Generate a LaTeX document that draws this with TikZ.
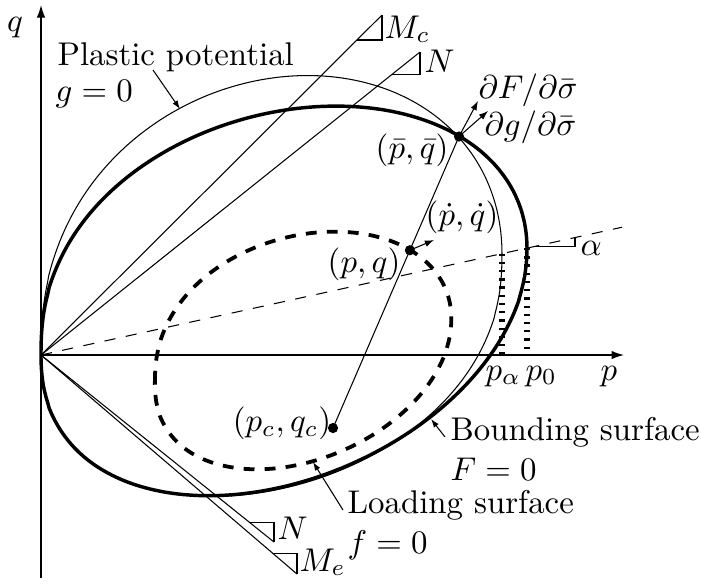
\documentclass[tikz,border=0pt]{standalone}
\usetikzlibrary{arrows.meta}
\begin{document}
\begin{tikzpicture}[x=0.0107cm,y=-0.0107cm,
  thinl/.style={line width=0.32pt},
  thickl/.style={line width=1.05pt},
  axisl/.style={line width=0.42pt,-{Latex[length=3.8pt,width=2.6pt]}},
  normarrow/.style={line width=0.32pt,-{Latex[length=2.8pt,width=2pt]}},
  lblarrow/.style={line width=0.32pt,-{Latex[length=2.6pt,width=1.8pt]}},
  dotn/.style={circle,fill,inner sep=0pt,minimum size=3.1pt},
  lbl/.style={inner sep=0pt},
  loaddash/.style={line width=1.15pt,dash pattern=on 3.3pt off 3.1pt},
  alphadash/.style={line width=0.32pt,dash pattern=on 3.4pt off 3.2pt},
  dotline/.style={line width=1.6pt,dash pattern=on 0.7pt off 1.8pt},
]
\useasboundingbox (0,0) rectangle (701,583);

% bounding surface formula (pixel coordinates)
\def\BX{(41+486*pow(sin(\t),2))}
\def\BYU{(355-(106.9*pow(sin(\t),2)+362*pow(sin(\t),0.84)*cos(\t)))}
\def\BYL{(355-(106.9*pow(sin(\t),2)-354.8*pow(sin(\t),0.92)*pow(-cos(\t),0.96)))}

% coordinates
\coordinate (O) at (41,355);
\coordinate (qtop) at (41,5);
\coordinate (qbot) at (41,578);
\coordinate (pend) at (624,355);
\coordinate (C) at (333,428);
\coordinate (bar) at (459,136.5);
\coordinate (PQ) at (409.9,250.2);

% axes
\draw[axisl] (qbot) -- (qtop);
\draw[axisl] (O) -- (pend);

% lines from origin
\coordinate (Mc) at (382,15);
\coordinate (Mca) at (357,40);
\coordinate (Mcb) at (382,40);
\draw[thinl] (O) -- (Mc);
\draw[thinl] (Mca) -- (Mcb) -- (Mc);
\coordinate (Nu) at (420,52);
\coordinate (Nua) at (392,74.4);
\coordinate (Nub) at (420,74.4);
\draw[thinl] (O) -- (Nu);
\draw[thinl] (Nua) -- (Nub) -- (Nu);
\coordinate (Nl) at (274,542);
\coordinate (Nla) at (249,522);
\coordinate (Nlb) at (274,522);
\draw[thinl] (O) -- (Nl);
\draw[thinl] (Nla) -- (Nlb) -- (Nl);
\coordinate (Me) at (297,574);
\coordinate (Mea) at (273,553.5);
\coordinate (Meb) at (297,553.5);
\draw[thinl] (O) -- (Me);
\draw[thinl] (Mea) -- (Meb) -- (Me);

% alpha line
\coordinate (aend) at (622,227.2);
\draw[alphadash] (O) -- (aend);
\coordinate (aa) at (535,246.3);
\coordinate (ab) at (575,246.3);
\coordinate (ac) at (575,237.5);
\draw[thinl] (aa) -- (ab) -- (ac);

% dotted verticals
\coordinate (pat) at (502,253.6);
\coordinate (pab) at (502,355);
\coordinate (p0t) at (527,248);
\coordinate (p0b) at (527,355);
\draw[dotline] (pat) -- (pab);
\draw[dotline] (p0t) -- (p0b);

% bounding surface F=0
\draw[thickl] plot[domain=0.2:90,samples=150,variable=\t] ({\BX},{\BYU})
  -- plot[domain=90.3:179.8,samples=150,variable=\t] ({\BX},{\BYL}) -- cycle;

% loading surface f=0 (homothetic about C, ratio 0.61)
\draw[loaddash] plot[domain=0.2:90,samples=150,variable=\t] ({333+0.61*(\BX-333)},{428+0.61*(\BYU-428)})
  -- plot[domain=90.3:179.8,samples=150,variable=\t] ({333+0.61*(\BX-333)},{428+0.61*(\BYL-428)}) -- cycle;

% plastic potential g=0
\draw[thinl] plot[domain=0.2:90,samples=150,variable=\t]
   ({41+461*pow(sin(\t),2)},{355-(101.4*pow(sin(\t),2)+428*pow(sin(\t),0.84)*cos(\t))})
  -- plot[domain=90.3:179.8,samples=150,variable=\t]
   ({41+461*pow(sin(\t),2)},{355-(101.4*pow(sin(\t),2)-343*pow(sin(\t),0.92)*pow(-cos(\t),0.84))}) -- cycle;

% projection line and points
\draw[thinl] (C) -- (bar);
\node[dotn] (cdot) at (C) {};
\node[dotn] (pqdot) at (PQ) {};
\node[dotn] (bardot) at (bar) {};
\coordinate (nF) at (478,101);
\coordinate (ng) at (488,111);
\coordinate (pqv) at (434,240);
\draw[normarrow] (bar) -- (nF);
\draw[normarrow] (bar) -- (ng);
\draw[normarrow] (PQ) -- (pqv);

% labels
\node[lbl] (qlab) at (15,28) {$q$};
\node[lbl,anchor=base west] (plab) at (600,380) {$p$};
\node[lbl,anchor=base west] (palab) at (485,380) {$p_\alpha$};
\node[lbl,anchor=base west] (p0lab) at (525,380) {$p_0$};
\node[lbl,anchor=base west] (Mclab) at (384,38) {$M_c$};
\node[lbl,anchor=base west] (Nulab) at (424,72) {$N$};
\node[lbl,anchor=base west] (Nllab) at (277,539) {$N$};
\node[lbl,anchor=base west] (Melab) at (299,571) {$M_e$};
\node[lbl,anchor=base west] (alab) at (580,255) {$\alpha$};
\node[lbl,anchor=base west] (dF) at (478,98) {$\partial F/\partial\bar\sigma$};
\node[lbl,anchor=base west] (dg) at (484,135) {$\partial g/\partial\bar\sigma$};
\node[lbl] (barlab) at (412,150) {$(\bar p,\bar q)$};
\node[lbl] (dotlab) at (462,217) {$(\dot p,\dot q)$};
\node[lbl] (pqlab) at (364,264) {$(p,q)$};
\node[lbl] (pclab) at (282,423) {$(p_c,q_c)$};

\node[lbl,anchor=base west] (pp) at (57,65) {Plastic potential};
\node[lbl,anchor=base west] (g0) at (55,101) {$g=0$};
\coordinate (ppa) at (153,70);
\coordinate (ppb) at (180,109);
\draw[lblarrow] (ppa) -- (ppb);

\node[lbl,anchor=base west] (bs) at (450,440) {Bounding surface};
\node[lbl,anchor=base west] (F0) at (450,480) {$F=0$};
\coordinate (bsa) at (445,437);
\coordinate (bsb) at (431,419);
\draw[lblarrow] (bsa) -- (bsb);

\node[lbl,anchor=base west] (ls) at (347,513) {Loading surface};
\node[lbl,anchor=base west] (f0) at (347,553) {$f=0$};
\coordinate (lsa) at (343,510);
\coordinate (lsb) at (313,462);
\draw[lblarrow] (lsa) -- (lsb);
\end{tikzpicture}
\end{document}
